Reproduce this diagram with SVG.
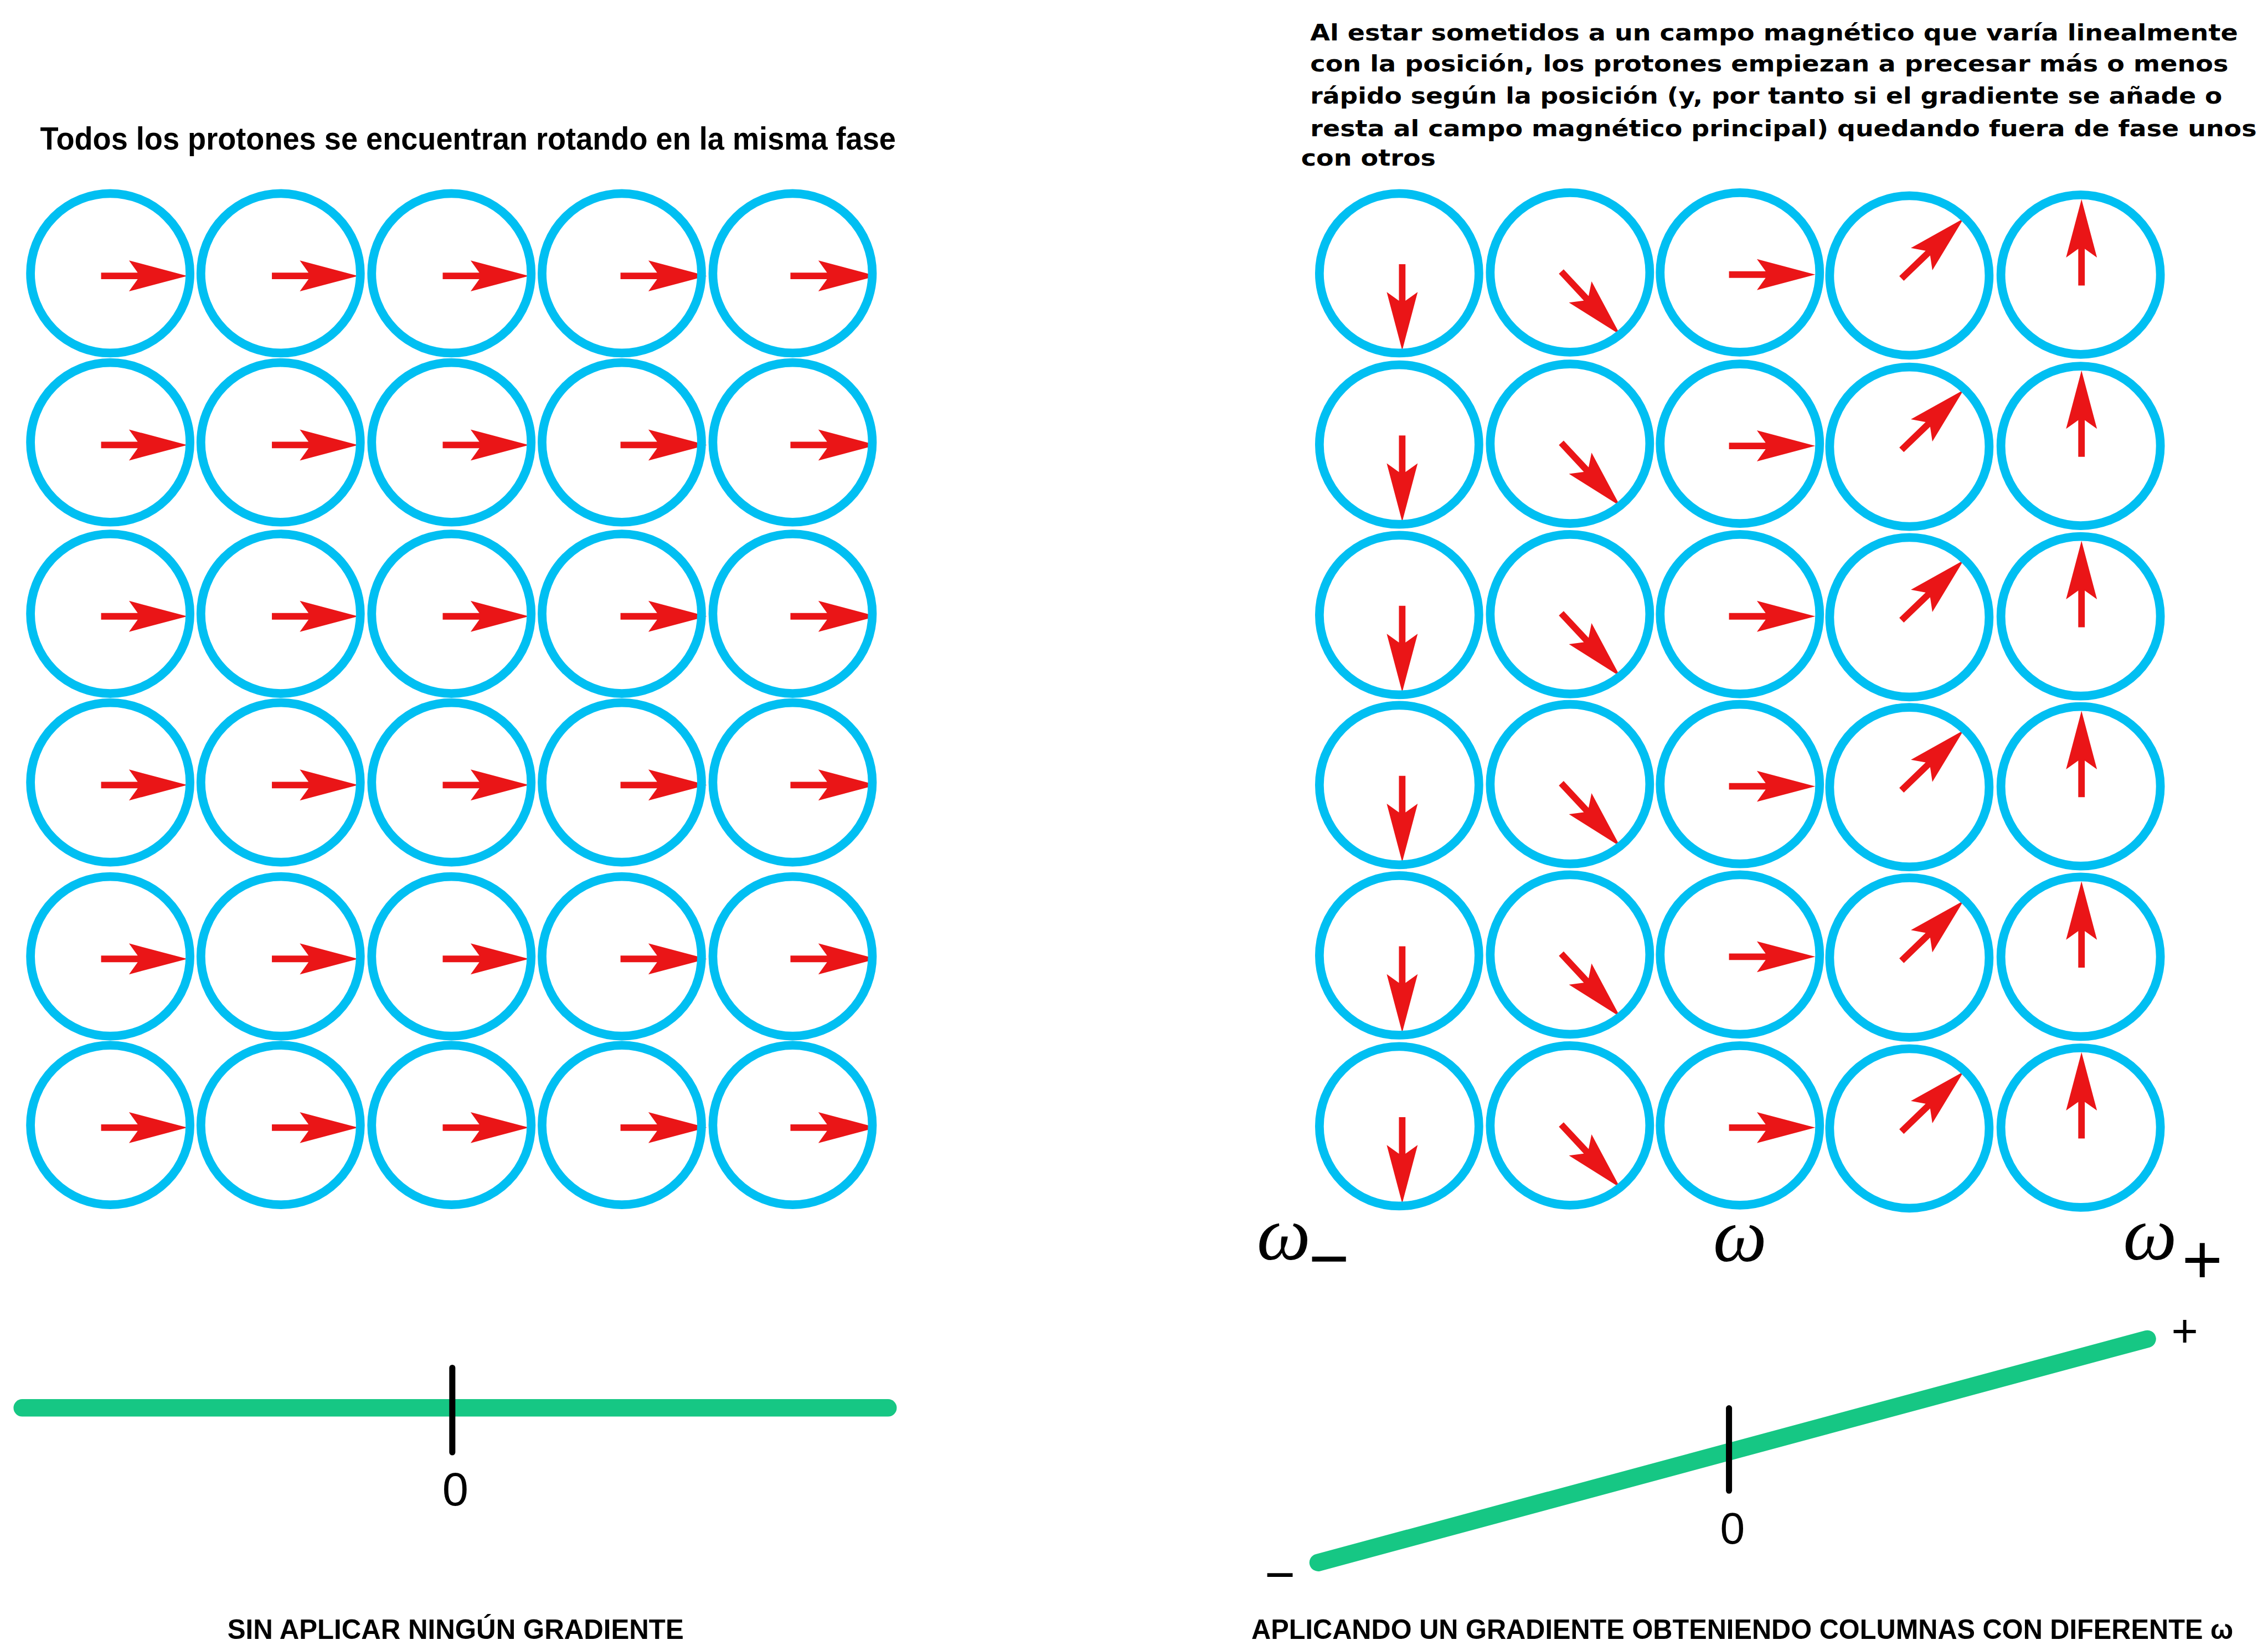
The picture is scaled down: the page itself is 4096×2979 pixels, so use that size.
<svg xmlns="http://www.w3.org/2000/svg" xmlns:xlink="http://www.w3.org/1999/xlink" width="4096" height="2979" viewBox="0 0 4096 2979">
<style>
.c{fill:none;stroke:#00BFF2;stroke-width:20}
.t{font-family:"Liberation Sans",Arial,sans-serif;font-weight:bold;fill:#000}
.p{font-family:"DejaVu Sans",Verdana,sans-serif;font-weight:bold;font-size:52px;fill:#000}
.w{font-family:"Liberation Serif","Times New Roman",serif;font-style:italic;font-size:175px;fill:#000;text-anchor:middle}
.s{font-family:"Liberation Sans",Arial,sans-serif;fill:#000;text-anchor:middle}
.g{stroke:#16C784;stroke-width:40;stroke-linecap:round;fill:none}
.k{stroke:#000;stroke-width:14;stroke-linecap:round}
</style>
<defs>
<path id="arr" d="M0,-7.5 H84 L64,-35.5 L198,0 L64,35.5 L84,7.5 H0 Z" fill="#EA1517"/>
</defs>
<rect width="4096" height="2979" fill="#fff"/>
<g transform="scale(0.78694)">
<text id="title-left" class="t" x="92" y="343" font-size="72" textLength="1964" lengthAdjust="spacingAndGlyphs">Todos los protones se encuentran rotando en la misma fase</text>
<g id="title-right">
<text class="p" x="3007" y="93" textLength="2129" lengthAdjust="spacingAndGlyphs">Al estar sometidos a un campo magnético que varía linealmente</text>
<text class="p" x="3007" y="164" textLength="2107" lengthAdjust="spacingAndGlyphs">con la posición, los protones empiezan a precesar más o menos</text>
<text class="p" x="3007" y="238" textLength="2093" lengthAdjust="spacingAndGlyphs">rápido según la posición (y, por tanto si el gradiente se añade o</text>
<text class="p" x="3007" y="312" textLength="2172" lengthAdjust="spacingAndGlyphs">resta al campo magnético principal) quedando fuera de fase unos</text>
<text class="p" x="2986" y="380" textLength="309" lengthAdjust="spacingAndGlyphs">con otros</text>
</g>
<g id="left-grid">
<g id="L11"><use xlink:href="#arr" transform="translate(232,633)"/><circle class="c" cx="253" cy="627" r="183"/></g>
<g id="L12"><use xlink:href="#arr" transform="translate(624,633)"/><circle class="c" cx="644" cy="627" r="183"/></g>
<g id="L13"><use xlink:href="#arr" transform="translate(1016,633)"/><circle class="c" cx="1036" cy="627" r="183"/></g>
<g id="L14"><use xlink:href="#arr" transform="translate(1424,633)"/><circle class="c" cx="1427" cy="627" r="183"/></g>
<g id="L15"><use xlink:href="#arr" transform="translate(1814,633)"/><circle class="c" cx="1819" cy="627" r="183"/></g>
<g id="L21"><use xlink:href="#arr" transform="translate(232,1021)"/><circle class="c" cx="253" cy="1015" r="183"/></g>
<g id="L22"><use xlink:href="#arr" transform="translate(624,1021)"/><circle class="c" cx="644" cy="1015" r="183"/></g>
<g id="L23"><use xlink:href="#arr" transform="translate(1016,1021)"/><circle class="c" cx="1036" cy="1015" r="183"/></g>
<g id="L24"><use xlink:href="#arr" transform="translate(1424,1021)"/><circle class="c" cx="1427" cy="1015" r="183"/></g>
<g id="L25"><use xlink:href="#arr" transform="translate(1814,1021)"/><circle class="c" cx="1819" cy="1015" r="183"/></g>
<g id="L31"><use xlink:href="#arr" transform="translate(232,1414)"/><circle class="c" cx="253" cy="1408" r="183"/></g>
<g id="L32"><use xlink:href="#arr" transform="translate(624,1414)"/><circle class="c" cx="644" cy="1408" r="183"/></g>
<g id="L33"><use xlink:href="#arr" transform="translate(1016,1414)"/><circle class="c" cx="1036" cy="1408" r="183"/></g>
<g id="L34"><use xlink:href="#arr" transform="translate(1424,1414)"/><circle class="c" cx="1427" cy="1408" r="183"/></g>
<g id="L35"><use xlink:href="#arr" transform="translate(1814,1414)"/><circle class="c" cx="1819" cy="1408" r="183"/></g>
<g id="L41"><use xlink:href="#arr" transform="translate(232,1801)"/><circle class="c" cx="253" cy="1795" r="183"/></g>
<g id="L42"><use xlink:href="#arr" transform="translate(624,1801)"/><circle class="c" cx="644" cy="1795" r="183"/></g>
<g id="L43"><use xlink:href="#arr" transform="translate(1016,1801)"/><circle class="c" cx="1036" cy="1795" r="183"/></g>
<g id="L44"><use xlink:href="#arr" transform="translate(1424,1801)"/><circle class="c" cx="1427" cy="1795" r="183"/></g>
<g id="L45"><use xlink:href="#arr" transform="translate(1814,1801)"/><circle class="c" cx="1819" cy="1795" r="183"/></g>
<g id="L51"><use xlink:href="#arr" transform="translate(232,2200)"/><circle class="c" cx="253" cy="2194" r="183"/></g>
<g id="L52"><use xlink:href="#arr" transform="translate(624,2200)"/><circle class="c" cx="644" cy="2194" r="183"/></g>
<g id="L53"><use xlink:href="#arr" transform="translate(1016,2200)"/><circle class="c" cx="1036" cy="2194" r="183"/></g>
<g id="L54"><use xlink:href="#arr" transform="translate(1424,2200)"/><circle class="c" cx="1427" cy="2194" r="183"/></g>
<g id="L55"><use xlink:href="#arr" transform="translate(1814,2200)"/><circle class="c" cx="1819" cy="2194" r="183"/></g>
<g id="L61"><use xlink:href="#arr" transform="translate(232,2587)"/><circle class="c" cx="253" cy="2581" r="183"/></g>
<g id="L62"><use xlink:href="#arr" transform="translate(624,2587)"/><circle class="c" cx="644" cy="2581" r="183"/></g>
<g id="L63"><use xlink:href="#arr" transform="translate(1016,2587)"/><circle class="c" cx="1036" cy="2581" r="183"/></g>
<g id="L64"><use xlink:href="#arr" transform="translate(1424,2587)"/><circle class="c" cx="1427" cy="2581" r="183"/></g>
<g id="L65"><use xlink:href="#arr" transform="translate(1814,2587)"/><circle class="c" cx="1819" cy="2581" r="183"/></g>
</g>
<g id="right-grid">
<g id="R11"><use xlink:href="#arr" transform="translate(3218,606) rotate(90)"/><circle class="c" cx="3211" cy="627" r="183"/></g>
<g id="R12"><use xlink:href="#arr" transform="translate(3583,623) rotate(47)"/><circle class="c" cx="3603" cy="625" r="183"/></g>
<g id="R13"><use xlink:href="#arr" transform="translate(3968,630)"/><circle class="c" cx="3993" cy="625" r="183"/></g>
<g id="R14"><use xlink:href="#arr" transform="translate(4364,639) rotate(-44)"/><circle class="c" cx="4382" cy="632" r="183"/></g>
<g id="R15"><use xlink:href="#arr" transform="translate(4777,655) rotate(-90)"/><circle class="c" cx="4775" cy="630" r="183"/></g>
<g id="R21"><use xlink:href="#arr" transform="translate(3218,999) rotate(90)"/><circle class="c" cx="3211" cy="1020" r="183"/></g>
<g id="R22"><use xlink:href="#arr" transform="translate(3583,1016) rotate(47)"/><circle class="c" cx="3603" cy="1018" r="183"/></g>
<g id="R23"><use xlink:href="#arr" transform="translate(3968,1023)"/><circle class="c" cx="3993" cy="1018" r="183"/></g>
<g id="R24"><use xlink:href="#arr" transform="translate(4364,1032) rotate(-44)"/><circle class="c" cx="4382" cy="1025" r="183"/></g>
<g id="R25"><use xlink:href="#arr" transform="translate(4777,1048) rotate(-90)"/><circle class="c" cx="4775" cy="1023" r="183"/></g>
<g id="R31"><use xlink:href="#arr" transform="translate(3218,1390) rotate(90)"/><circle class="c" cx="3211" cy="1411" r="183"/></g>
<g id="R32"><use xlink:href="#arr" transform="translate(3583,1407) rotate(47)"/><circle class="c" cx="3603" cy="1409" r="183"/></g>
<g id="R33"><use xlink:href="#arr" transform="translate(3968,1414)"/><circle class="c" cx="3993" cy="1409" r="183"/></g>
<g id="R34"><use xlink:href="#arr" transform="translate(4364,1423) rotate(-44)"/><circle class="c" cx="4382" cy="1416" r="183"/></g>
<g id="R35"><use xlink:href="#arr" transform="translate(4777,1439) rotate(-90)"/><circle class="c" cx="4775" cy="1414" r="183"/></g>
<g id="R41"><use xlink:href="#arr" transform="translate(3218,1780) rotate(90)"/><circle class="c" cx="3211" cy="1801" r="183"/></g>
<g id="R42"><use xlink:href="#arr" transform="translate(3583,1797) rotate(47)"/><circle class="c" cx="3603" cy="1799" r="183"/></g>
<g id="R43"><use xlink:href="#arr" transform="translate(3968,1804)"/><circle class="c" cx="3993" cy="1799" r="183"/></g>
<g id="R44"><use xlink:href="#arr" transform="translate(4364,1813) rotate(-44)"/><circle class="c" cx="4382" cy="1806" r="183"/></g>
<g id="R45"><use xlink:href="#arr" transform="translate(4777,1829) rotate(-90)"/><circle class="c" cx="4775" cy="1804" r="183"/></g>
<g id="R51"><use xlink:href="#arr" transform="translate(3218,2171) rotate(90)"/><circle class="c" cx="3211" cy="2192" r="183"/></g>
<g id="R52"><use xlink:href="#arr" transform="translate(3583,2188) rotate(47)"/><circle class="c" cx="3603" cy="2190" r="183"/></g>
<g id="R53"><use xlink:href="#arr" transform="translate(3968,2195)"/><circle class="c" cx="3993" cy="2190" r="183"/></g>
<g id="R54"><use xlink:href="#arr" transform="translate(4364,2204) rotate(-44)"/><circle class="c" cx="4382" cy="2197" r="183"/></g>
<g id="R55"><use xlink:href="#arr" transform="translate(4777,2220) rotate(-90)"/><circle class="c" cx="4775" cy="2195" r="183"/></g>
<g id="R61"><use xlink:href="#arr" transform="translate(3218,2563) rotate(90)"/><circle class="c" cx="3211" cy="2584" r="183"/></g>
<g id="R62"><use xlink:href="#arr" transform="translate(3583,2580) rotate(47)"/><circle class="c" cx="3603" cy="2582" r="183"/></g>
<g id="R63"><use xlink:href="#arr" transform="translate(3968,2587)"/><circle class="c" cx="3993" cy="2582" r="183"/></g>
<g id="R64"><use xlink:href="#arr" transform="translate(4364,2596) rotate(-44)"/><circle class="c" cx="4382" cy="2589" r="183"/></g>
<g id="R65"><use xlink:href="#arr" transform="translate(4777,2612) rotate(-90)"/><circle class="c" cx="4775" cy="2587" r="183"/></g>
</g>
<g id="omega-labels">
<text class="w" x="2946" y="2890">ω</text>
<text class="s" x="3050" y="2942" font-size="160">−</text>
<text class="w" x="3993" y="2894">ω</text>
<text class="w" x="4934" y="2890">ω</text>
<text class="s" x="5054" y="2944" font-size="160">+</text>
</g>
<g id="connectors">
<line class="g" x1="51" y1="3230" x2="2038" y2="3230"/>
<line class="k" x1="1038" y1="3138" x2="1038" y2="3332"/>
<line class="g" x1="3025" y1="3585" x2="4928" y2="3072"/>
<line class="k" x1="3968" y1="3231" x2="3968" y2="3420"/>
</g>
<g id="axis-labels">
<text class="s" x="1045" y="3454" font-size="108">0</text>
<text class="s" x="3976" y="3541" font-size="102">0</text>
<text class="s" x="2937" y="3653" font-size="120">−</text>
<text class="s" x="5014" y="3089" font-size="105">+</text>
</g>
<g id="captions">
<text class="t" x="522" y="3760" font-size="64" textLength="1047" lengthAdjust="spacingAndGlyphs">SIN APLICAR NINGÚN GRADIENTE</text>
<text class="t" x="2872" y="3760" font-size="64" textLength="2253" lengthAdjust="spacingAndGlyphs">APLICANDO UN GRADIENTE OBTENIENDO COLUMNAS CON DIFERENTE ω</text>
</g>
</g>
</svg>
